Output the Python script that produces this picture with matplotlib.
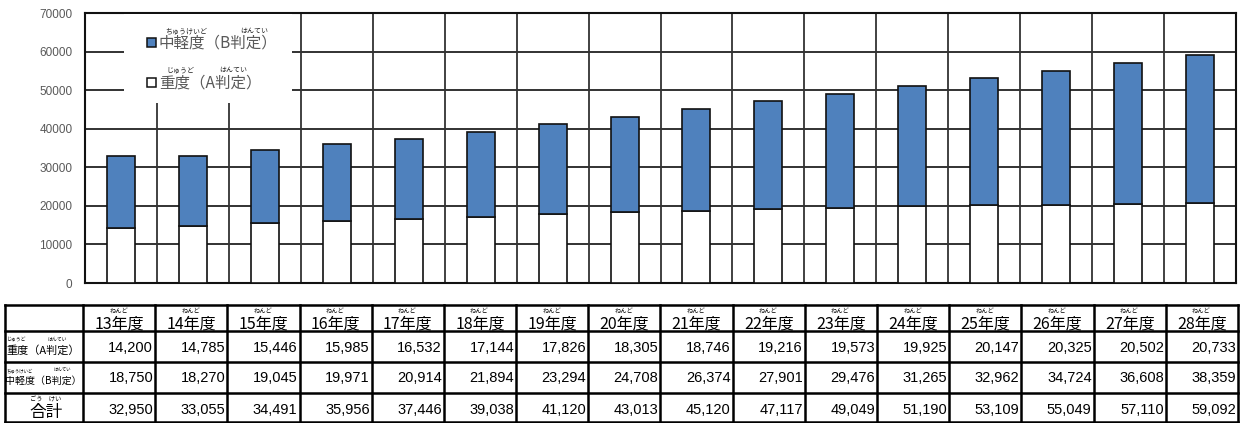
import matplotlib
matplotlib.use("Agg")
import matplotlib.pyplot as plt
from matplotlib.patches import Rectangle
import numpy as np

plt.rcParams['font.family'] = ['Noto Sans CJK JP', 'DejaVu Sans']

years = ["13", "14", "15", "16", "17", "18", "19", "20", "21", "22", "23", "24", "25", "26", "27", "28"]
severe_a = [14200, 14785, 15446, 15985, 16532, 17144, 17826, 18305, 18746, 19216, 19573, 19925, 20147, 20325, 20502, 20733]
mild_b = [18750, 18270, 19045, 19971, 20914, 21894, 23294, 24708, 26374, 27901, 29476, 31265, 32962, 34724, 36608, 38359]
totals = [32950, 33055, 34491, 35956, 37446, 39038, 41120, 43013, 45120, 47117, 49049, 51190, 53109, 55049, 57110, 59092]
yticks = [0, 10000, 20000, 30000, 40000, 50000, 60000, 70000]

W, H = 1243, 423
BLUE = "#4F81BD"
fig = plt.figure(figsize=(W / 100, H / 100), dpi=100)

# ---- chart axes ----
L, R, T, B = 85, 1236, 13, 283
ax = fig.add_axes([L / W, 1 - B / H, (R - L) / W, (B - T) / H])
n = len(years)
x = np.arange(n)
ax.set_xlim(-0.5, n - 0.5)
ax.set_ylim(0, 70000)
ax.set_yticks(yticks)
ax.set_yticklabels([str(v) for v in yticks], color="#595959", fontsize=8.5, family=['Liberation Sans'])
ax.set_xticks([])
ax.tick_params(axis='y', length=0, pad=9)
for v in yticks[1:]:
    ax.axhline(v, color="#222222", lw=1.3, zorder=1)
for b in np.arange(0.5, n - 0.5, 1):
    ax.axvline(b, color="#333333", lw=1.3, zorder=1)
for s in ax.spines.values():
    s.set_color("#111111")
    s.set_linewidth(1.5)
ax.bar(x, severe_a, width=0.39, color="white", edgecolor="#111111", lw=1.2, zorder=3)
ax.bar(x, mild_b, bottom=severe_a, width=0.39, color=BLUE, edgecolor="#111111", lw=1.2, zorder=3)

# ---- overlay in pixel coords ----
ov = fig.add_axes([0, 0, 1, 1])
ov.set_xlim(0, W)
ov.set_ylim(H, 0)
ov.axis("off")

# legend
ov.add_patch(Rectangle((124, 14), 168, 89, facecolor="white", edgecolor="none", zorder=5))
ov.add_patch(Rectangle((147, 38.5), 9, 9, facecolor=BLUE, edgecolor="#111111", lw=1.1, zorder=6))
ov.add_patch(Rectangle((147, 78.5), 9, 9, facecolor="white", edgecolor="#111111", lw=1.1, zorder=6))
leg_kw = dict(fontsize=11.2, color="#595959", va="center", ha="left", zorder=7)
ov.text(159, 43.5, "中軽度（B判定）", **leg_kw)
ov.text(159, 83.5, "重度（A判定）", **leg_kw)
fur_kw = dict(fontsize=5, color="#222222", va="center", ha="center", zorder=7)
ov.text(186, 31, "ちゅうけいど", **fur_kw)
ov.text(254, 31, "はんてい", **fur_kw)
ov.text(180, 70, "じゅうど", **fur_kw)
ov.text(233, 70, "はんてい", **fur_kw)

# table
tl, tc0, tr = 5, 83, 1238
rows_y = [305, 331, 362, 393, 422]
cw = (tr - tc0) / n
lw = 1.8
for yy in rows_y:
    ov.plot([tl, tr], [yy, yy], color="black", lw=lw, solid_capstyle="projecting")
ov.plot([tl, tl], [rows_y[0], rows_y[-1]], color="black", lw=lw)
for i in range(n + 1):
    xx = tc0 + i * cw
    ov.plot([xx, xx], [rows_y[0], rows_y[-1]], color="black", lw=lw)

for i in range(n):
    cx = tc0 + (i + 0.5) * cw
    ov.text(cx, 323.5, years[i] + "年度", fontsize=11.5, ha="center", va="center")
    ov.text(cx - 0.5, 311, "ねんど", fontsize=4.5, ha="center", va="center")
    xr = tc0 + (i + 1) * cw - 2
    for val, yc in zip([severe_a[i], mild_b[i], totals[i]], [347.5, 378.5, 409.5]):
        ov.text(xr, yc, f"{val:,}", fontsize=10.5, ha="right", va="center",
                family=['Liberation Sans'])

ov.text(6, 350, "重度（A判定）", fontsize=8, ha="left", va="center")
ov.text(17, 339.5, "じゅうど", fontsize=3.5, ha="center", va="center")
ov.text(57, 339.5, "はんてい", fontsize=3.5, ha="center", va="center")
ov.text(5, 381, "中軽度（B判定）", fontsize=7.2, ha="left", va="center")
ov.text(20, 370.5, "ちゅうけいど", fontsize=3.2, ha="center", va="center")
ov.text(62, 370.5, "はんてい", fontsize=3.2, ha="center", va="center")
ov.text(46, 412, "合計", fontsize=12, ha="center", va="center")
ov.text(46, 400, "ごう　けい", fontsize=4.5, ha="center", va="center")

fig.savefig("out.png", dpi=100)
